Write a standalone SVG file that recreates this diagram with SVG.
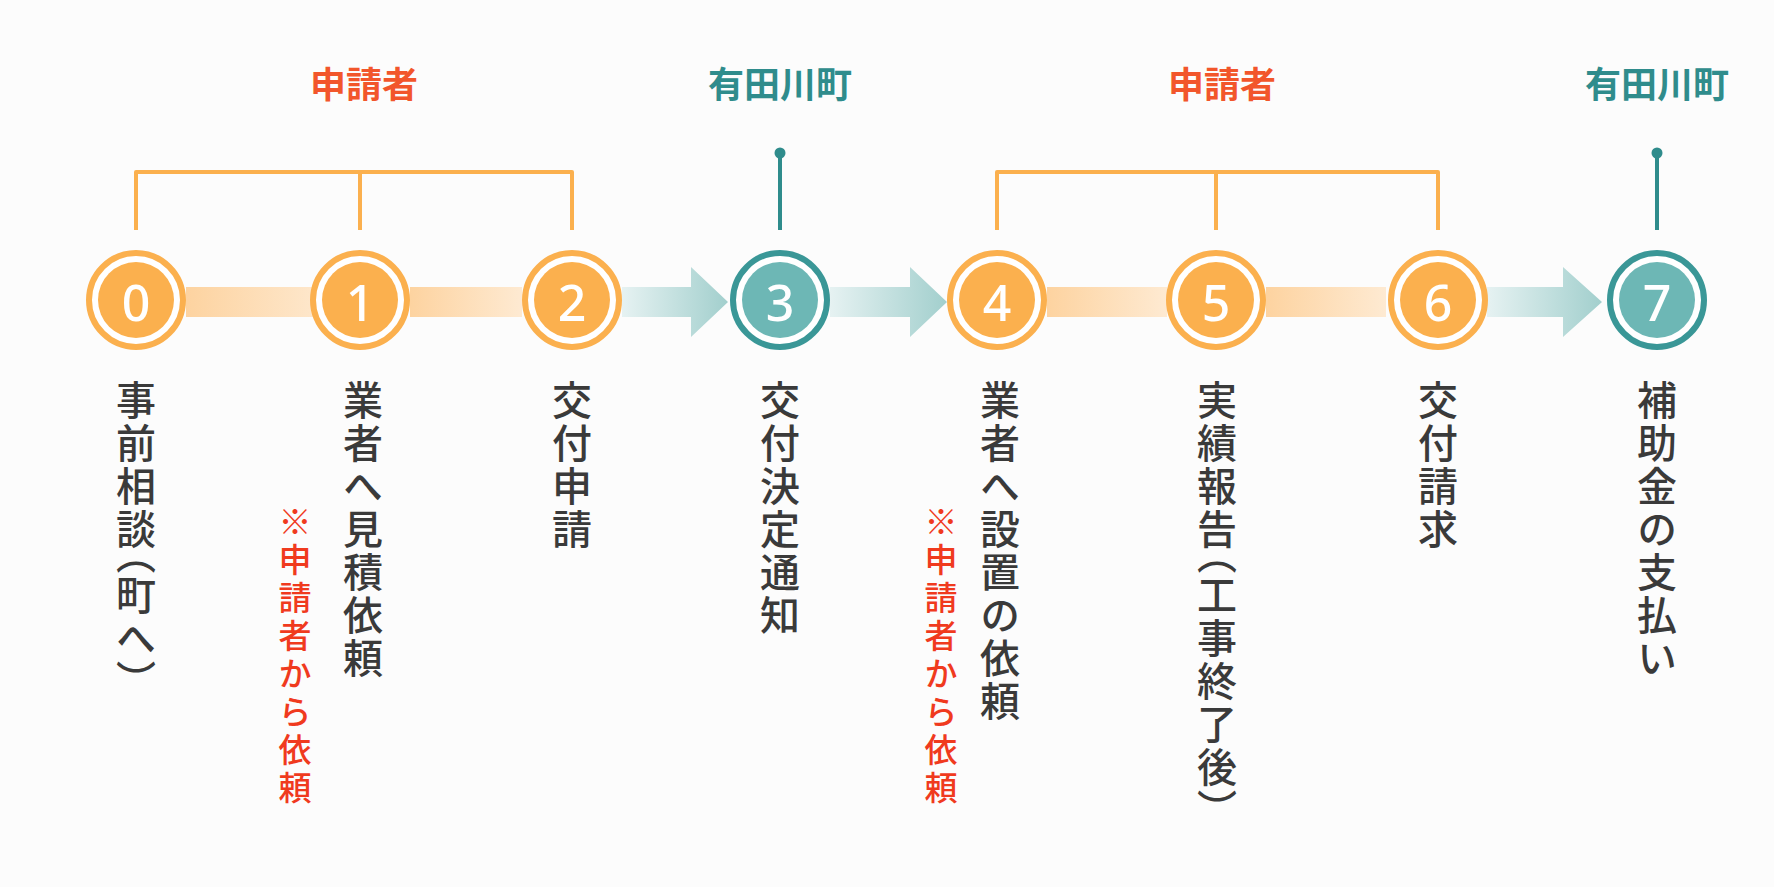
<svg xmlns="http://www.w3.org/2000/svg" width="1774" height="887" viewBox="0 0 1774 887">
<style>
.hd{font-family:"Noto Sans CJK JP",sans-serif;font-size:36px;font-weight:bold;text-anchor:middle}
.or{fill:#f2562b}.tl{fill:#2f8c8c}
.lb{font-family:"Noto Sans CJK JP",sans-serif;font-size:40px;font-weight:500;fill:#3a3a3a;writing-mode:vertical-rl;text-orientation:upright;letter-spacing:3px}
.p{font-feature-settings:"vpal"}
.nt{font-family:"Noto Sans CJK JP",sans-serif;font-size:33px;font-weight:500;fill:#f03a1e;writing-mode:vertical-rl;text-orientation:upright;letter-spacing:5px}
.num{font-family:"Noto Sans","DejaVu Sans",sans-serif;font-size:50px;font-weight:500;fill:#fff;text-anchor:middle;dominant-baseline:central}
.br{fill:none;stroke:#fbb04e;stroke-width:4;stroke-linejoin:round}
.pin{stroke:#2f8c8c;stroke-width:4}
</style>
<defs>
<linearGradient id="ob" x1="0" x2="1"><stop offset="0" stop-color="#fdd3a0"/><stop offset="1" stop-color="#feead2"/></linearGradient>
<linearGradient id="tb" x1="0" x2="1"><stop offset="0" stop-color="#e6f2f2"/><stop offset="1" stop-color="#a2cfcd"/></linearGradient>
</defs>
<rect width="1774" height="887" fill="#fcfcfc"/>
<g id="connectors">
<rect x="186" y="287" width="150" height="30" fill="url(#ob)"/>
<rect x="410" y="287" width="112" height="30" fill="url(#ob)"/>
<path d="M622 287H691V267L728 302L691 337V317H622Z" fill="url(#tb)"/>
<path d="M830 287H910V267L947 302L910 337V317H830Z" fill="url(#tb)"/>
<rect x="1047" y="287" width="120" height="30" fill="url(#ob)"/>
<rect x="1266" y="287" width="120" height="30" fill="url(#ob)"/>
<path d="M1487 287H1563V267L1602 302L1563 337V317H1487Z" fill="url(#tb)"/>
<path class="br" d="M136 230V172H572V230M360 172V230"/>
<path class="br" d="M997 230V172H1438V230M1216 172V230"/>
<line class="pin" x1="780" y1="153" x2="780" y2="230"/><circle cx="780" cy="153" r="5.5" fill="#2f8c8c"/>
<line class="pin" x1="1657" y1="153" x2="1657" y2="230"/><circle cx="1657" cy="153" r="5.5" fill="#2f8c8c"/>
</g>
<text class="hd or" x="364" y="98">申請者</text>
<text class="hd tl" x="780" y="98">有田川町</text>
<text class="hd or" x="1222" y="98">申請者</text>
<text class="hd tl" x="1657" y="98">有田川町</text>
<g id="n0"><circle cx="136" cy="300" r="47" fill="#fff" stroke="#fbb04e" stroke-width="6"/><circle cx="136" cy="300" r="38" fill="#fbb04e"/><text class="num" x="136" y="302">0</text><text class="lb" x="136" y="380">事前相談<tspan class="p">（</tspan>町へ<tspan class="p">）</tspan></text></g>
<g id="n1"><circle cx="360" cy="300" r="47" fill="#fff" stroke="#fbb04e" stroke-width="6"/><circle cx="360" cy="300" r="38" fill="#fbb04e"/><text class="num" x="360" y="302">1</text><text class="lb" x="363" y="380">業者へ見積依頼</text><text class="nt" x="295" y="505">※申請者から依頼</text></g>
<g id="n2"><circle cx="572" cy="300" r="47" fill="#fff" stroke="#fbb04e" stroke-width="6"/><circle cx="572" cy="300" r="38" fill="#fbb04e"/><text class="num" x="572" y="302">2</text><text class="lb" x="572" y="380">交付申請</text></g>
<g id="n3"><circle cx="780" cy="300" r="47" fill="#fff" stroke="#3a9797" stroke-width="6"/><circle cx="780" cy="300" r="38" fill="#6db7b5"/><text class="num" x="780" y="302">3</text><text class="lb" x="780" y="380">交付決定通知</text></g>
<g id="n4"><circle cx="997" cy="300" r="47" fill="#fff" stroke="#fbb04e" stroke-width="6"/><circle cx="997" cy="300" r="38" fill="#fbb04e"/><text class="num" x="997" y="302">4</text><text class="lb" x="1000" y="380">業者へ設置の依頼</text><text class="nt" x="941" y="505">※申請者から依頼</text></g>
<g id="n5"><circle cx="1216" cy="300" r="47" fill="#fff" stroke="#fbb04e" stroke-width="6"/><circle cx="1216" cy="300" r="38" fill="#fbb04e"/><text class="num" x="1216" y="302">5</text><text class="lb" x="1217" y="380">実績報告<tspan class="p">（</tspan>工事終了後<tspan class="p">）</tspan></text></g>
<g id="n6"><circle cx="1438" cy="300" r="47" fill="#fff" stroke="#fbb04e" stroke-width="6"/><circle cx="1438" cy="300" r="38" fill="#fbb04e"/><text class="num" x="1438" y="302">6</text><text class="lb" x="1438" y="380">交付請求</text></g>
<g id="n7"><circle cx="1657" cy="300" r="47" fill="#fff" stroke="#3a9797" stroke-width="6"/><circle cx="1657" cy="300" r="38" fill="#6db7b5"/><text class="num" x="1657" y="302">7</text><text class="lb" x="1657" y="380">補助金の支払い</text></g>
</svg>
